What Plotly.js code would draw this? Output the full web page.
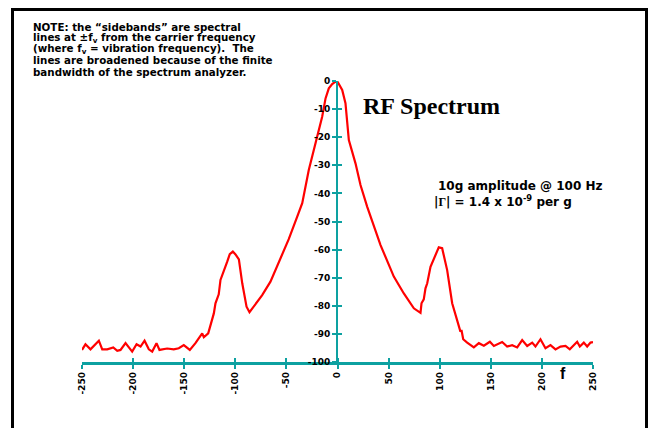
<!DOCTYPE html>
<html>
<head>
<meta charset="utf-8">
<script src="https://cdn.plot.ly/plotly-3.0.1.min.js"></script>
<style>html,body{margin:0;padding:0;background:#fff;}#chart{width:650px;height:428px;}</style>
</head>
<body>
<div id="chart"></div>
<script>
// Frequency offset (Hz) and power (dB)
const freq = [-250,-246.6,-241.7,-233.5,-230.2,-225.3,-219.4,-215.5,-212.3,-207.4,-200.9,-196.6,-192.7,-188.8,-184.6,-181.3,-177.1,-174.2,-166.7,-160.2,-155.3,-150.4,-144.5,-139,-132.4,-130.8,-126.5,-124,-121,-119.4,-116.2,-114.5,-111.2,-107.9,-105.4,-102.4,-99.8,-96.5,-93.2,-89,-86.1,-81.9,-73.7,-65.6,-55.8,-47.7,-39.4,-34.5,-28.1,-19.9,-15,-11.7,-8.5,-5.2,-2,0.3,4.6,7.8,11.1,17.6,22.5,29,32.3,42.1,55.1,64.9,74.7,79.6,81.2,82.2,84.4,86.1,87.8,91,93.6,99.1,102.4,107.3,112.2,118.7,120.3,121.3,123,126.9,129.5,133.4,138.3,143.2,149.1,153,161.1,166,170.9,175.8,180.7,185.6,190.5,193.7,198.6,203.5,208.4,213.3,218.2,223.1,227.3,231.2,234.5,237.1,241,244.3,247.6,250];
const power = [-95.7,-93.7,-95.5,-92.4,-95.5,-95.5,-94.8,-96,-95.7,-93.3,-96.3,-93.7,-94.5,-92.4,-95.5,-96.3,-93.3,-95.7,-95.2,-95.5,-95.1,-94,-95.7,-93.3,-89.8,-91.2,-89.8,-86.5,-82.7,-79.1,-75.9,-70.8,-67.9,-64.3,-61.6,-60.7,-61.7,-63.5,-72,-80.3,-82.3,-80.3,-76.2,-71.4,-63.1,-56.3,-48.3,-43.5,-31.7,-20.4,-12.7,-6.2,-2.6,-1.1,-0.2,-0.4,-3.2,-7.9,-21,-29.3,-37,-44.7,-48.3,-58.4,-69.6,-75.6,-80.9,-82.3,-82.5,-79.1,-77.7,-73.8,-72,-66.1,-63.7,-59.2,-59.5,-67.3,-79.1,-88,-89.2,-88.6,-91.9,-93.1,-93.8,-94.8,-93.3,-94.2,-92.8,-94.3,-92.9,-94.5,-94,-94.8,-92.2,-94.3,-93.1,-94.5,-91.9,-95.1,-94,-95.5,-94.5,-94.3,-95.5,-94,-92.8,-94.5,-93.1,-94.5,-93.1,-92.9];
const xTicks = [-250,-200,-150,-100,-50,0,50,100,150,200,250];
const xTickText = ["-250","-200","-150","-100","-50","0","50","100","150","200","250"];
const yTicks = [0,-10,-20,-30,-40,-50,-60,-70,-80,-90,-100];
const yTickText = ["0","-10","-20","-30","-40","-50","-60","-70","-80","-90","-100"];
const noteLines = [
  "NOTE: the \u201csidebands\u201d are spectral",
  "lines at \u00b1f<sub>v</sub> from the carrier frequency",
  "(where f<sub>v</sub> = vibration frequency).  The",
  "lines are broadened because of the finite",
  "bandwidth of the spectrum analyzer."
];
const titleText = "RF Spectrum";
const info1 = "10g amplitude @ 100 Hz";
const info2 = "|<span style=\"font-family:'Liberation Serif'\">\u0393</span>| = 1.4 x 10<sup>-9</sup> per g";
const xLabel = "f";

const teal = '#0DA1A1';
const boldSans = 'DejaVu Sans';
const tickFont = {family: boldSans, size: 9, color: '#000', weight: 'bold'};

const traces = [
  {x: freq, y: power, type: 'scatter', mode: 'lines',
   line: {color: '#FF0000', width: 2.2}, cliponaxis: false, hoverinfo: 'none'},
  {x: [null], y: [null], xaxis: 'x2', yaxis: 'y2', type: 'scatter', mode: 'lines', hoverinfo: 'none', showlegend: false}
];

const noteY = [1.1932, 1.1541, 1.1149, 1.0747, 1.0331];
const annotations = noteLines.map((t, i) => ({
  text: t, xref: 'paper', yref: 'paper', x: -0.1, y: noteY[i],
  xanchor: 'left', yanchor: 'middle', showarrow: false,
  font: {family: boldSans, size: 10.3, color: '#000', weight: 'bold'}
}));
annotations.push({text: titleText, xref: 'paper', yref: 'paper', x: 0.6843, y: 0.9128,
  xanchor: 'center', yanchor: 'middle', showarrow: false,
  font: {family: 'Liberation Serif', size: 24, color: '#000', weight: 'bold'}});
annotations.push({text: info1, xref: 'paper', yref: 'paper', x: 0.6922, y: 0.628,
  xanchor: 'left', yanchor: 'middle', showarrow: false,
  font: {family: boldSans, size: 12, color: '#000', weight: 'bold'}});
annotations.push({text: info2, xref: 'paper', yref: 'paper', x: 0.6843, y: 0.573,
  xanchor: 'left', yanchor: 'middle', showarrow: false,
  font: {family: boldSans, size: 12, color: '#000', weight: 'bold'}});
annotations.push({text: xLabel, xref: 'paper', yref: 'paper', x: 0.9413, y: -0.0427,
  xanchor: 'center', yanchor: 'middle', showarrow: false,
  font: {family: 'Liberation Sans', size: 16, color: '#000', weight: 'bold'}});

const layout = {
  width: 650, height: 428,
  margin: {l: 82, r: 57, t: 81, b: 66, pad: 0},
  paper_bgcolor: '#fff', plot_bgcolor: '#fff',
  showlegend: false,
  xaxis: {range: [-250, 250], tickvals: xTicks, ticktext: xTickText,
    ticks: 'outside', ticklen: 4, tickwidth: 2, tickcolor: teal,
    showline: true, linecolor: teal, linewidth: 2.5, showgrid: false, zeroline: false,
    tickangle: -90, tickfont: tickFont, fixedrange: true},
  yaxis: {range: [-100, 0], tickvals: yTicks, ticktext: yTickText,
    anchor: 'free', position: 0.499,
    ticks: 'outside', ticklen: 4, tickwidth: 2, tickcolor: teal,
    showline: true, linecolor: teal, linewidth: 2.5, showgrid: false, zeroline: false,
    tickfont: tickFont, fixedrange: true},
  xaxis2: {range: [-250, 250], tickvals: xTicks, overlaying: 'x', anchor: 'y', side: 'bottom',
    ticks: 'inside', ticklen: 4, tickwidth: 2, tickcolor: teal,
    showticklabels: false, showline: false, showgrid: false, zeroline: false},
  yaxis2: {range: [-100, 0], tickvals: yTicks, overlaying: 'y', anchor: 'free', position: 0.499, side: 'left',
    ticks: 'inside', ticklen: 4, tickwidth: 2, tickcolor: teal,
    showticklabels: false, showline: false, showgrid: false, zeroline: false},
  shapes: [{type: 'rect', xref: 'paper', yref: 'paper',
    x0: -0.136, x1: 1.1047, y0: -0.35, y1: 1.2544,
    line: {color: '#000', width: 3}, fillcolor: 'rgba(0,0,0,0)', layer: 'below'}],
  annotations: annotations
};

Plotly.newPlot('chart', traces, layout, {displayModeBar: false, staticPlot: true});
</script>
</body>
</html>
